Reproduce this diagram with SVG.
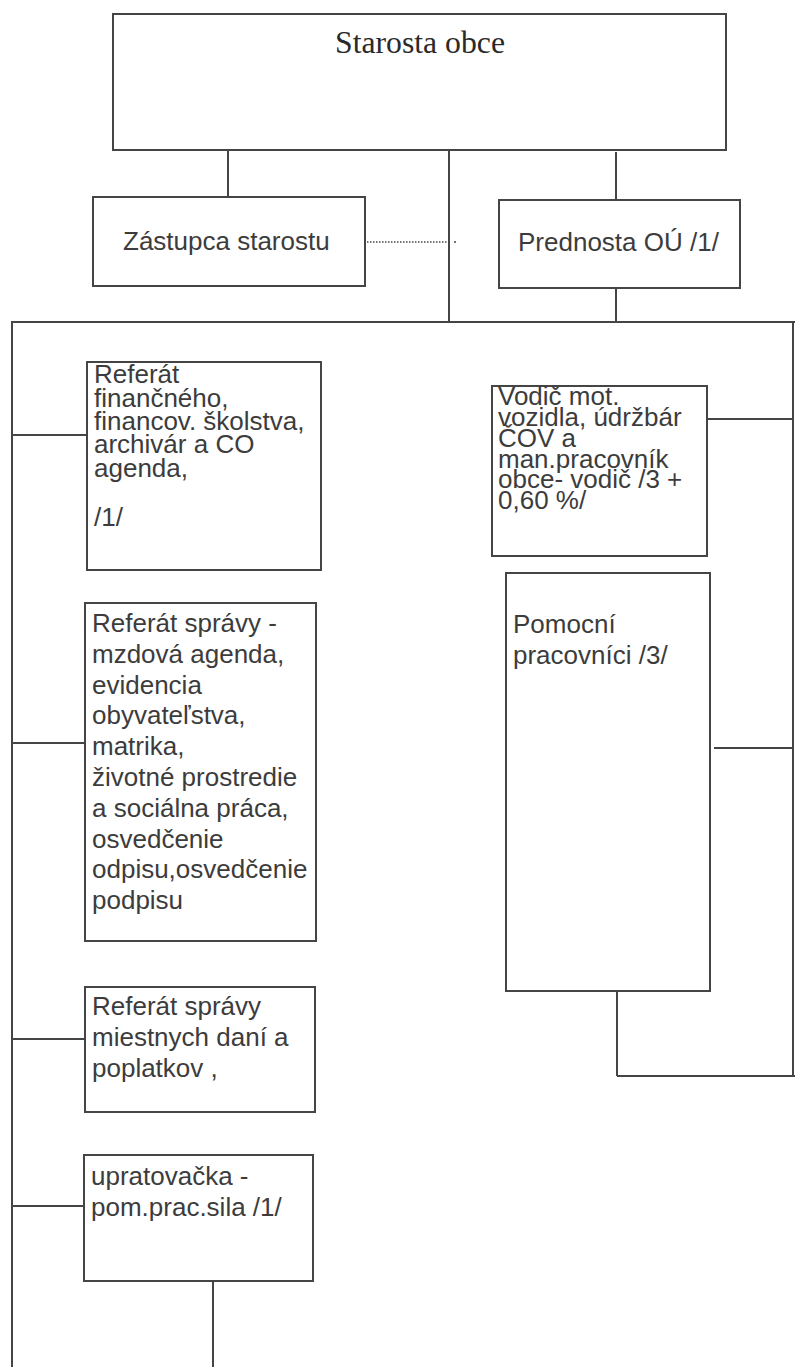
<svg xmlns="http://www.w3.org/2000/svg" width="795" height="1367" viewBox="0 0 795 1367">
<style>
.box{fill:#fff;stroke:#454545;stroke-width:2}
.ln{fill:none;stroke:#454545;stroke-width:2}
.dot{fill:none;stroke:#454545;stroke-width:1.3;stroke-dasharray:1.5 1.5}
.t{font-family:"Liberation Sans",Arial,sans-serif;font-size:26px;fill:#3c3c3c}
.s{font-family:"Liberation Serif","Times New Roman",serif;font-size:32px;fill:#2a2a2a}
</style>
<rect width="795" height="1367" fill="#fff"/>
<g id="connectors">
<line class="ln" x1="228" y1="150" x2="228" y2="197"/>
<line class="ln" x1="449" y1="150" x2="449" y2="323"/>
<line class="ln" x1="616" y1="152" x2="616" y2="200"/>
<line class="ln" x1="616" y1="288" x2="616" y2="323"/>
<line class="dot" x1="367" y1="242" x2="447" y2="242"/>
<circle cx="455" cy="242" r="1" fill="#454545"/>
<line class="ln" x1="12" y1="322" x2="795" y2="322"/>
<line class="ln" x1="12" y1="321" x2="12" y2="1367"/>
<line class="ln" x1="793" y1="321" x2="793" y2="1077"/>
<line class="ln" x1="12" y1="435" x2="87" y2="435"/>
<line class="ln" x1="12" y1="743" x2="85" y2="743"/>
<line class="ln" x1="12" y1="1039" x2="85" y2="1039"/>
<line class="ln" x1="12" y1="1206" x2="84" y2="1206"/>
<line class="ln" x1="213" y1="1281" x2="213" y2="1367"/>
<line class="ln" x1="707" y1="419" x2="793" y2="419"/>
<line class="ln" x1="714" y1="748" x2="793" y2="748"/>
<line class="ln" x1="617" y1="991" x2="617" y2="1076"/>
<line class="ln" x1="617" y1="1076" x2="795" y2="1076"/>
</g>
<g id="starosta">
<rect class="box" x="113" y="14" width="613" height="136"/>
<text class="s" x="420" y="53" text-anchor="middle" textLength="170" lengthAdjust="spacingAndGlyphs">Starosta obce</text>
</g>
<g id="zastupca">
<rect class="box" x="93" y="197" width="272" height="89"/>
<text class="t" x="123" y="250">Zástupca starostu</text>
</g>
<g id="prednosta">
<rect class="box" x="499" y="200" width="241" height="88"/>
<text class="t" x="518" y="251">Prednosta OÚ /1/</text>
</g>
<g id="referat-financny">
<rect class="box" x="87" y="362" width="234" height="208"/>
<text class="t"><tspan x="94" y="383">Referát</tspan><tspan x="94" y="407">finančného,</tspan><tspan x="94" y="430">financov. školstva,</tspan><tspan x="94" y="453">archivár a CO</tspan><tspan x="94" y="477">agenda,</tspan><tspan x="94" y="526">/1/</tspan></text>
</g>
<g id="referat-spravy">
<rect class="box" x="85" y="603" width="231" height="338"/>
<text class="t"><tspan x="92" y="632">Referát správy -</tspan><tspan x="92" y="663">mzdová agenda,</tspan><tspan x="92" y="694">evidencia</tspan><tspan x="92" y="724">obyvateľstva,</tspan><tspan x="92" y="755">matrika,</tspan><tspan x="92" y="786">životné prostredie</tspan><tspan x="92" y="817">a sociálna práca,</tspan><tspan x="92" y="848">osvedčenie</tspan><tspan x="92" y="878">odpisu,osvedčenie</tspan><tspan x="92" y="909">podpisu</tspan></text>
</g>
<g id="referat-dane">
<rect class="box" x="85" y="987" width="230" height="125"/>
<text class="t"><tspan x="92" y="1015">Referát správy</tspan><tspan x="92" y="1046">miestnych daní a</tspan><tspan x="92" y="1077">poplatkov ,</tspan></text>
</g>
<g id="upratovacka">
<rect class="box" x="84" y="1155" width="229" height="126"/>
<text class="t"><tspan x="91" y="1185">upratovačka -</tspan><tspan x="91" y="1216">pom.prac.sila /1/</tspan></text>
</g>
<g id="vodic">
<rect class="box" x="492" y="386" width="215" height="170"/>
<text class="t"><tspan x="498" y="405">Vodič mot.</tspan><tspan x="498" y="426">vozidla, údržbár</tspan><tspan x="498" y="447">ČOV a</tspan><tspan x="498" y="468">man.pracovník</tspan><tspan x="498" y="488">obce- vodič /3 +</tspan><tspan x="498" y="509">0,60 %/</tspan></text>
</g>
<g id="pomocni">
<rect class="box" x="506" y="573" width="204" height="418"/>
<text class="t"><tspan x="513" y="633">Pomocní</tspan><tspan x="513" y="664">pracovníci /3/</tspan></text>
</g>
</svg>
